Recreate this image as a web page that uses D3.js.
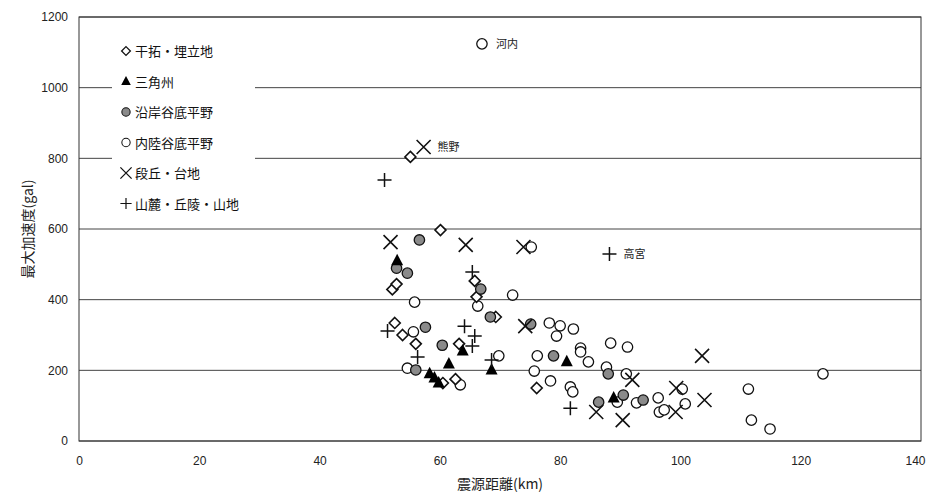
<!DOCTYPE html>
<html>
<head>
<meta charset="utf-8">
<script src="https://cdn.jsdelivr.net/npm/d3@7"></script>
<style>
  body { margin: 0; background: #fff; }
  svg { display: block; font-family: "Liberation Sans", Arial, sans-serif; }
  .jp { font-family: "Noto Sans CJK JP", sans-serif; }
</style>
</head>
<body>
<svg id="chart" width="926" height="496"></svg>
<script>
// [distance km, peak acceleration gal]
const reclaimed = [[55.1,804],[60.1,597],[52.1,429],[52.8,444],[52.5,334],[53.8,300],[56.0,275],[63.2,275],
  [60.5,164],[62.6,175],[69.3,351],[76.1,150],[66.1,408],[65.8,453]];
const delta = [[52.9,510],[61.5,218],[58.3,190],[59.1,178],[59.8,164],[63.8,255],[68.6,201],[81.1,224],[88.9,122]];
const coastal = [[56.6,569],[52.8,489],[54.6,475],[57.6,322],[60.4,271],[56.0,201],[66.8,430],[68.4,351],
  [75.1,331],[78.9,241],[88.0,190],[86.4,110],[90.5,130],[93.8,116]];
const inland = [[67.0,1124],[55.8,393],[55.6,309],[54.6,206],[63.4,159],[66.3,382],[72.1,413],[75.2,549],
  [76.2,241],[75.7,198],[78.4,170],[78.2,334],[80.0,326],[82.2,317],[79.4,297],[83.4,263],[83.4,252],
  [84.7,224],[87.7,209],[88.4,277],[81.7,153],[82.1,139],[91.2,266],[91.0,190],[96.3,122],[96.5,82],
  [97.3,88],[100.8,105],[100.3,147],[92.7,108],[89.5,110],[111.3,147],[111.8,59],[114.9,34],[123.7,190],[69.8,241]];
const terrace = [[57.3,832],[51.8,563],[64.3,555],[73.9,549],[74.2,325],[86.0,82],[103.6,241],[92.0,173],
  [99.3,150],[99.2,82],[104.0,116],[90.4,59]];
const hill = [[50.8,739],[88.2,529],[65.4,478],[51.3,311],[64.1,325],[65.8,297],[65.4,269],[56.3,238],[68.6,229],[81.7,93]];

const seriesNames = ["干拓・埋立地", "三角州", "沿岸谷底平野", "内陸谷底平野", "段丘・台地", "山麓・丘陵・山地"];
const seriesData = [reclaimed, delta, coastal, inland, terrace, hill];
const seriesShape = ["diamond", "triangle", "shaded", "circle", "cross", "plus"];

const xTicks = [0, 20, 40, 60, 80, 100, 120, 140];
const yTicks = [0, 200, 400, 600, 800, 1000, 1200];

// named sites
const notes = [
  { name: "河内", x: 67.0, y: 1124 },
  { name: "熊野", x: 57.3, y: 832 },
  { name: "高宮", x: 88.2, y: 529 }
];

const margin = { top: 17, right: 5, bottom: 55, left: 79 };
const width = 926 - margin.left - margin.right;
const height = 496 - margin.top - margin.bottom;

const svg = d3.select("#chart");
const g = svg.append("g").attr("transform", `translate(${margin.left},${margin.top})`);

const x = d3.scaleLinear().domain([0, 140]).range([0, width]);
const y = d3.scaleLinear().domain([0, 1200]).range([height, 0]);

// grid lines
g.append("g")
  .selectAll("line")
  .data(yTicks)
  .join("line")
  .attr("x1", 0).attr("x2", width)
  .attr("y1", d => y(d)).attr("y2", d => y(d))
  .attr("stroke", "#444").attr("stroke-width", 1);

// frame
g.append("rect")
  .attr("width", width).attr("height", height)
  .attr("fill", "none").attr("stroke", "#333").attr("stroke-width", 1);

const xAxis = g.append("g")
  .attr("transform", `translate(0,${height})`)
  .call(d3.axisBottom(x).tickValues(xTicks).tickFormat(d3.format("d")).tickSize(0).tickPadding(15));
xAxis.select(".domain").remove();
xAxis.selectAll("text").attr("font-size", 12).attr("fill", "#222").attr("font-family", "Liberation Sans, Arial");
// last label sits on the right edge
xAxis.selectAll("text").filter(d => d === 140).attr("text-anchor", "end").attr("dx", 4);

const yAxis = g.append("g")
  .call(d3.axisLeft(y).tickValues(yTicks).tickFormat(d3.format("d")).tickSize(0).tickPadding(11));
yAxis.select(".domain").remove();
yAxis.selectAll("text").attr("font-size", 12).attr("fill", "#222").attr("font-family", "Liberation Sans, Arial");

svg.append("text")
  .attr("class", "jp")
  .attr("x", margin.left + x(70)).attr("y", 489)
  .attr("text-anchor", "middle").attr("font-size", 14).attr("fill", "#222")
  .text("震源距離(km)");

svg.append("text")
  .attr("class", "jp")
  .attr("transform", `translate(33,${margin.top + y(600)}) rotate(-90)`)
  .attr("text-anchor", "middle").attr("font-size", 14).attr("fill", "#222")
  .text("最大加速度(gal)");

// marker drawing
function drawMarker(sel, shape) {
  const stroke = "#111";
  if (shape === "diamond") {
    sel.append("path").attr("d", "M0,-5.5L5.5,0L0,5.5L-5.5,0Z")
      .attr("fill", "#fff").attr("stroke", stroke).attr("stroke-width", 1.6);
  } else if (shape === "triangle") {
    sel.append("path").attr("d", "M0,-7L6,4.5L-6,4.5Z").attr("fill", "#000");
  } else if (shape === "shaded") {
    sel.append("circle").attr("r", 5.2)
      .attr("fill", "#8a8a8a").attr("stroke", "#111").attr("stroke-width", 1.3);
  } else if (shape === "circle") {
    sel.append("circle").attr("r", 5.2)
      .attr("fill", "#fff").attr("stroke", stroke).attr("stroke-width", 1.3);
  } else if (shape === "cross") {
    sel.append("path").attr("d", "M-7,-7L7,7M-7,7L7,-7")
      .attr("stroke", stroke).attr("stroke-width", 1.6).attr("fill", "none");
  } else if (shape === "plus") {
    sel.append("path").attr("d", "M-7,0L7,0M0,-7L0,7")
      .attr("stroke", stroke).attr("stroke-width", 1.5).attr("fill", "none");
  }
}

// draw order: circles behind, filled marks over them
const order = [3, 0, 2, 1, 4, 5];
order.forEach(i => {
  g.append("g")
    .selectAll("g")
    .data(seriesData[i])
    .join("g")
    .attr("transform", d => `translate(${x(d[0])},${y(d[1])})`)
    .each(function() { drawMarker(d3.select(this), seriesShape[i]); });
});

// site labels
g.selectAll(".note")
  .data(notes)
  .join("text")
  .attr("class", "jp")
  .attr("x", d => x(d.x) + 14).attr("y", d => y(d.y) + 4)
  .attr("font-size", 11).attr("fill", "#222")
  .text(d => d.name);

// legend
const legend = g.append("g").attr("transform", "translate(33,8)");
legend.append("rect")
  .attr("x", 0).attr("y", 0).attr("width", 143).attr("height", 200)
  .attr("fill", "#fff");
seriesNames.forEach((name, i) => {
  const row = legend.append("g").attr("transform", `translate(14,${26 + i * 30.5})`);
  const m = row.append("g").attr("transform", "scale(0.8)");
  drawMarker(m, seriesShape[i]);
  row.append("text")
    .attr("class", "jp")
    .attr("x", 9).attr("y", 5)
    .attr("font-size", 13).attr("fill", "#111")
    .text(name);
});
</script>
</body>
</html>
